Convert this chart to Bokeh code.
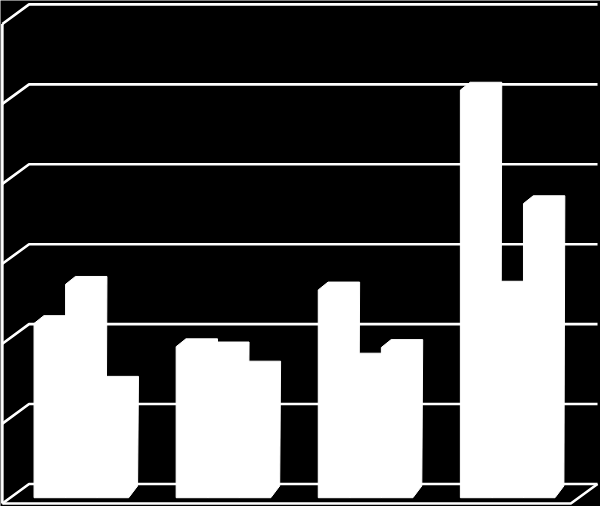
from bokeh.plotting import figure
from bokeh.models import Range1d
from bokeh.embed import file_html
from bokeh.resources import INLINE

# ---- data ----
categories = ["Group 1", "Group 2", "Group 3", "Group 4"]
series_names = ["Series 1", "Series 2", "Series 3"]
series_1 = [2.18, 1.89, 2.60, 5.10]
series_2 = [2.67, 1.85, 1.71, 2.61]
series_3 = [1.42, 1.61, 1.88, 3.68]
y_ticks = [0, 1, 2, 3, 4, 5, 6]

all_series = [series_1, series_2, series_3]

# ---- style constants (3-D look) ----
BAR_W = 0.222            # width of one bar (category units)
TOP_DX, TOP_DY = 0.069, 0.098     # offset of the top face back edge
BOT_DX, BOT_DY = 0.0625, 0.147    # offset of the bottom back edge
BACK_LEFT, BACK_RIGHT = -0.368, 3.632   # back wall horizontal extent
FRONT_LEFT, FRONT_RIGHT = -0.556, 3.444 # front floor edge extent
BACK_SHIFT = 0.172       # back wall vertical shift vs. bar fronts
DEPTH_DY = 0.245         # vertical drop from back wall to front edge
LINE_W = 2.6

p = figure(width=600, height=506, output_backend="svg", toolbar_location=None,
           x_range=Range1d(-0.569, 3.653), y_range=Range1d(-0.110, 6.221),
           min_border=0, min_border_left=0, min_border_right=0,
           min_border_top=0, min_border_bottom=0)
p.background_fill_color = "black"
p.border_fill_color = "black"
p.outline_line_color = None
p.axis.visible = False
p.xaxis.visible = False
p.yaxis.visible = False
p.grid.visible = False

# back wall gridlines with the left-wall diagonal
grid_xs, grid_ys = [], []
for t in y_ticks:
    yb = t + BACK_SHIFT
    grid_xs.append([FRONT_LEFT, BACK_LEFT, BACK_RIGHT])
    grid_ys.append([yb - DEPTH_DY, yb, yb])
p.multi_line(grid_xs, grid_ys, line_color="white", line_width=LINE_W)

# left wall vertical edge
top_y = y_ticks[-1] + BACK_SHIFT - DEPTH_DY
bot_y = y_ticks[0] + BACK_SHIFT - DEPTH_DY
p.line([FRONT_LEFT, FRONT_LEFT], [bot_y, top_y], line_color="white", line_width=LINE_W)

# floor: front edge and right diagonal
floor_back = y_ticks[0] + BACK_SHIFT
p.line([FRONT_LEFT, FRONT_RIGHT, BACK_RIGHT], [bot_y, bot_y, floor_back],
       line_color="white", line_width=LINE_W)

# bars as 3-D silhouettes
xs, ys = [], []
for i, cat in enumerate(categories):
    for j, ser in enumerate(all_series):
        v = ser[i]
        x0 = i - 1.5 * BAR_W + j * BAR_W
        x1 = x0 + BAR_W
        xs.append([x0, x1, x1 + BOT_DX, x1 + TOP_DX, x0 + TOP_DX, x0])
        ys.append([0, 0, BOT_DY, v + TOP_DY, v + TOP_DY, v])
p.patches(xs, ys, fill_color="white", line_color="white", line_width=1)

open("out.html", "w").write(file_html(p, INLINE))
